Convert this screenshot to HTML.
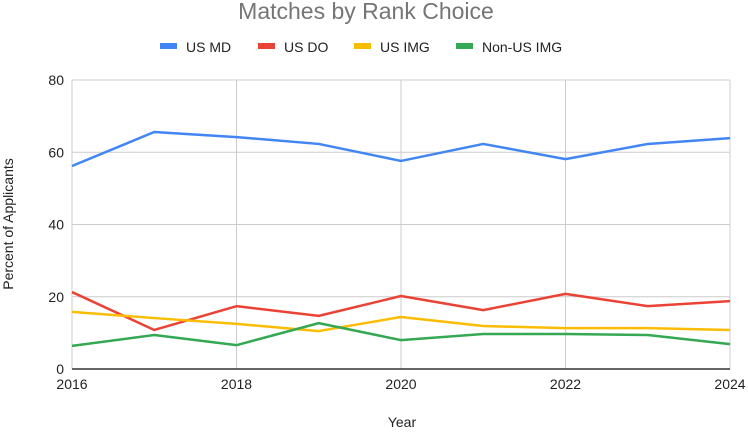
<!DOCTYPE html>
<html><head><meta charset="utf-8"><style>
body{margin:0;background:#fff;font-family:"Liberation Sans",Arial,sans-serif}
svg text{font-family:"Liberation Sans",Arial,sans-serif}
</style></head><body>
<svg id="chart" width="748" height="428" viewBox="0 0 748 428" xmlns="http://www.w3.org/2000/svg">
<rect width="748" height="428" fill="#fff"/>
<text x="366" y="19" text-anchor="middle" font-size="23" fill="#757575">Matches by Rank Choice</text>
<g id="legend"></g>
<g id="grid"></g>
<g id="series"></g>
<g id="axes"></g>
<text transform="translate(13,224) rotate(-90)" text-anchor="middle" font-size="14" fill="#222">Percent of Applicants</text>
<text x="402" y="427" text-anchor="middle" font-size="14" fill="#222">Year</text>
</svg>
<script>
const years=[2016,2017,2018,2019,2020,2021,2022,2023,2024];
const usMD=[56.2,65.6,64.2,62.3,57.6,62.3,58.1,62.3,63.9];
const usDO=[21.3,10.8,17.4,14.7,20.2,16.3,20.8,17.4,18.8];
const usIMG=[15.8,14.1,12.5,10.5,14.4,11.9,11.3,11.3,10.8];
const nonUsIMG=[6.4,9.4,6.6,12.7,8.0,9.7,9.7,9.4,6.9];
const yTicks=[0,20,40,60,80];
const xTicks=[2016,2018,2020,2022,2024];
const seriesNames=["US MD","US DO","US IMG","Non-US IMG"];
const NS="http://www.w3.org/2000/svg";
const L=72,R=730,T=80,B=369;
const x=v=>L+(v-2016)/(2024-2016)*(R-L);
const y=v=>B-v/80*(B-T);
function mk(tag,attrs,parent){const e=document.createElementNS(NS,tag);for(const k in attrs)e.setAttribute(k,attrs[k]);parent.appendChild(e);return e;}
const grid=document.getElementById('grid'),axes=document.getElementById('axes'),ser=document.getElementById('series'),leg=document.getElementById('legend');
yTicks.forEach(t=>{
 if(t>0){const g=mk('line',{x1:L,x2:R,y1:y(t),y2:y(t),stroke:'#ccc','stroke-width':1},grid);
 
 }
 const tx=mk('text',{x:L-8,y:y(t)+5,'text-anchor':'end','font-size':14,fill:'#222'},axes);tx.textContent=t;
 
 
});
xTicks.forEach(t=>{
 const g=mk('line',{x1:x(t),x2:x(t),y1:T,y2:B,stroke:'#ccc','stroke-width':1},grid);
 
 
 const tx=mk('text',{x:x(t),y:B+20,'text-anchor':'middle','font-size':14,fill:'#222'},axes);tx.textContent=t;
 
 
});
const base=mk('line',{x1:L,x2:R,y1:B,y2:B,stroke:'#333','stroke-width':1.5},axes);


const colors=['#4285f4','#ea4335','#fbbc04','#34a853'];
const data=[usMD,usDO,usIMG,nonUsIMG];
const ids=['us-md-line','us-do-line','us-img-line','non-us-img-line'];
data.forEach((d,i)=>{
 const p=mk('polyline',{points:d.map((v,j)=>x(years[j])+','+y(v)).join(' '),fill:'none',stroke:colors[i],'stroke-width':2.5,'stroke-linejoin':'round'},ser);
 
 
});
const lx=[160,258,354,456];
seriesNames.forEach((n,i)=>{
 const g=mk('g',{},leg);
 
 
 mk('rect',{x:lx[i],y:43,width:17,height:6,fill:colors[i]},g);
 const t=mk('text',{x:lx[i]+26,y:52,'font-size':14,fill:'#222'},g);t.textContent=n;
});
</script>
</body></html>
